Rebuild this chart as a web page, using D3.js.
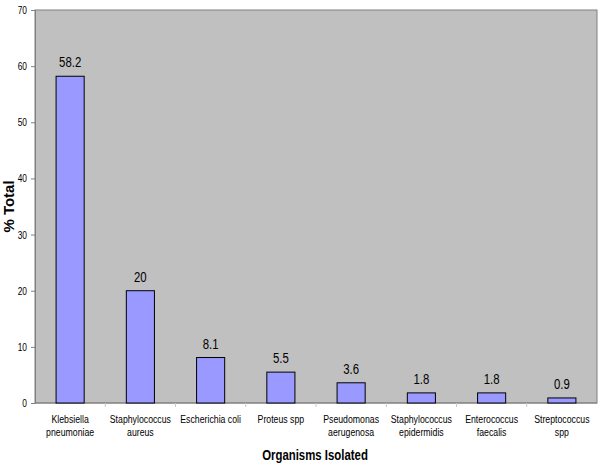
<!DOCTYPE html>
<html><head><meta charset="utf-8">
<script src="https://cdn.jsdelivr.net/npm/d3@7"></script>
<style>body{margin:0;background:#fff}svg{display:block}</style>
</head><body>
<svg id="c" width="600" height="468"></svg>
<script>
const categories = [["Klebsiella","pneumoniae"],["Staphylococcus","aureus"],["Escherichia coli"],["Proteus spp"],["Pseudomonas","aerugenosa"],["Staphylococcus","epidermidis"],["Enterococcus","faecalis"],["Streptococcus","spp"]];
const values = [58.2, 20, 8.1, 5.5, 3.6, 1.8, 1.8, 0.9];
const yTicks = [0,10,20,30,40,50,60,70];
const names = categories.map(c => c.join(" "));

const svg = d3.select("#c");
const m = {l:35, r:597, t:10, b:403};
const font = "'Liberation Sans', Arial, sans-serif";
const SX = 0.76; // horizontal compression of text, as in the reference
const x = d3.scaleBand().domain(names).range([m.l, m.r]).paddingInner(0.6).paddingOuter(0.3);
const xb = d3.scaleBand().domain(names).range([m.l, m.r]);
const y = d3.scaleLinear().domain([0,70]).range([m.b, m.t]);

svg.append("rect").attr("x", m.l).attr("y", m.t).attr("width", m.r-m.l).attr("height", m.b-m.t)
  .attr("fill", "#c0c0c0").attr("stroke", "#808080").attr("stroke-width", 1);

// y axis
const ya = svg.append("g").attr("transform", `translate(${m.l},0)`)
  .call(d3.axisLeft(y).tickValues(yTicks).tickSize(4).tickPadding(4));
ya.select(".domain").attr("stroke", "#808080");
ya.selectAll(".tick line").attr("stroke", "#808080");
ya.selectAll(".tick text").each(function(){
  const t = d3.select(this);
  const tx = +t.attr("x");
  t.attr("x", 0).attr("transform", `translate(${tx},0) scale(${SX},1)`);
}).attr("font-family", font).attr("font-size", 11).attr("fill", "#000");

// x axis
const xa = svg.append("g").attr("transform", `translate(0,${m.b})`);
xa.append("line").attr("x1", m.l).attr("x2", m.r).attr("stroke", "#808080");
xa.selectAll("line.t").data(names.slice(1)).join("line").attr("class","t")
  .attr("x1", d => xb(d)).attr("x2", d => xb(d)).attr("y1", 0).attr("y2", 4).attr("stroke", "#c8c8c8");

// bars
svg.selectAll("rect.bar").data(values).join("rect").attr("class","bar")
  .attr("x", (d,i) => x(names[i])).attr("width", x.bandwidth())
  .attr("y", d => y(d)).attr("height", d => y(0)-y(d))
  .attr("fill", "#9999ff").attr("stroke", "#000").attr("stroke-width", 1);

// value labels
svg.selectAll("text.val").data(values).join("text").attr("class","val")
  .attr("transform", (d,i) => `translate(${x(names[i]) + x.bandwidth()/2},${y(d) - 9}) scale(${SX},1)`)
  .attr("text-anchor", "middle").attr("font-family", font).attr("font-size", 15).attr("fill", "#000")
  .text(d => d);

// category labels
categories.forEach((c,i) => {
  const cx = xb(names[i]) + xb.bandwidth()/2;
  const t = svg.append("text").attr("transform", `translate(${cx},423) scale(${SX},1)`)
    .attr("text-anchor","middle").attr("font-family", font).attr("font-size", 11.5).attr("fill","#000");
  c.forEach((line,j) => t.append("tspan").attr("x", 0).attr("dy", j ? 13.5 : 0).text(line));
});

// axis titles
svg.append("text").attr("transform", `translate(${(m.l+m.r)/2 - 1},460) scale(${SX},1)`).attr("text-anchor","middle")
  .attr("font-family", font).attr("font-size", 15).attr("font-weight","bold").text("Organisms Isolated");
svg.append("text").attr("transform", `translate(14,${(m.t+m.b)/2}) rotate(-90)`).attr("text-anchor","middle")
  .attr("font-family", font).attr("font-size", 15).attr("font-weight","bold").text("% Total");
</script>
</body></html>
